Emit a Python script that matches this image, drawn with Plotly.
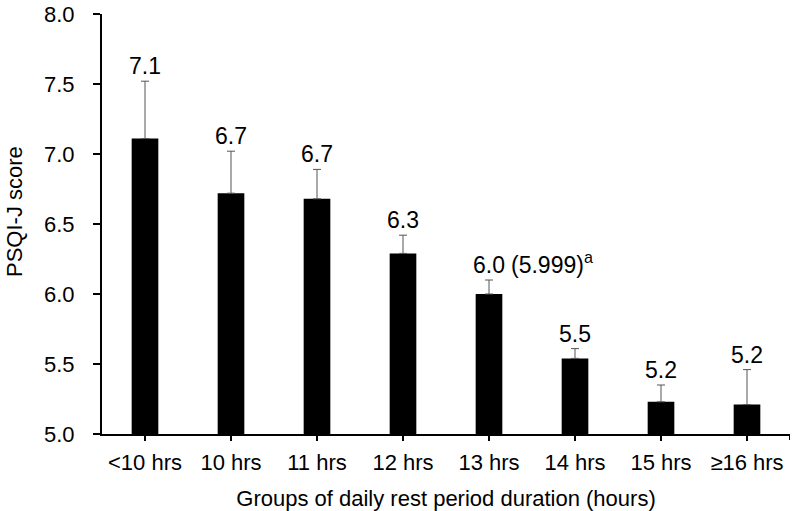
import plotly.graph_objects as go

categories = ["<10 hrs", "10 hrs", "11 hrs", "12 hrs", "13 hrs", "14 hrs", "15 hrs", "≥16 hrs"]
scores = [7.11, 6.72, 6.68, 6.29, 6.00, 5.54, 5.23, 5.21]
err_upper = [0.41, 0.30, 0.21, 0.13, 0.10, 0.07, 0.12, 0.25]
labels = ["7.1", "6.7", "6.7", "6.3", "6.0", "5.5", "5.2", "5.2"]
note_index = 4
note_text = "(5.999)<sup>a</sup>"
y_ticks = [5.0, 5.5, 6.0, 6.5, 7.0, 7.5, 8.0]
y_title = "PSQI-J score"
x_title = "Groups of daily rest period duration (hours)"

FONT = "Arial, 'Liberation Sans', sans-serif"

fig = go.Figure()
fig.add_trace(go.Bar(
    x=categories, y=scores, width=0.31,
    marker=dict(color="black", line=dict(width=0)),
    error_y=dict(type="data", symmetric=False, array=err_upper,
                 arrayminus=[0] * len(scores), color="#555555",
                 thickness=1, width=4),
    showlegend=False,
))

for i, (c, v, e, t) in enumerate(zip(categories, scores, err_upper, labels)):
    fig.add_annotation(x=c, y=v + e, text=t, showarrow=False, xref="x", yref="y",
                       yanchor="bottom", yshift=0,
                       font=dict(family=FONT, size=23, color="black"))

fig.add_annotation(x=categories[note_index], y=scores[note_index] + err_upper[note_index],
                   text=note_text, showarrow=False, xref="x", yref="y",
                   xanchor="left", yanchor="bottom", yshift=0, xshift=20,
                   font=dict(family=FONT, size=23, color="black"))

# y-axis title placed as rotated text left of the tick labels
fig.add_annotation(x=0, y=0.5, xref="paper", yref="paper", text=y_title,
                   textangle=-90, showarrow=False, xanchor="center", yanchor="middle",
                   xshift=-88, yshift=12, borderpad=0,
                   font=dict(family=FONT, size=22, color="black"))

# end tick at the right end of the x axis
fig.add_shape(type="line", xref="x", yref="paper", x0=7.5, x1=7.5,
              ysizemode="pixel", yanchor=0, y0=0, y1=-6,
              line=dict(color="black", width=2))

fig.update_layout(
    width=794, height=511,
    margin=dict(l=102, r=4, t=14, b=77, autoexpand=False),
    paper_bgcolor="white", plot_bgcolor="white",
    font=dict(family=FONT, size=22, color="black"),
)
fig.update_xaxes(
    type="category", range=[-0.5, 7.5], automargin=False,
    showline=True, linecolor="black", linewidth=2,
    ticks="outside", ticklen=5, tickwidth=2, tickcolor="black",
    tickfont=dict(family=FONT, size=22, color="black"),
    ticklabelstandoff=3,
    title=dict(text=x_title, font=dict(family=FONT, size=22, color="black"), standoff=17),
    showgrid=False, zeroline=False,
)
fig.update_yaxes(
    range=[5.0, 8.0], tickvals=y_ticks, ticktext=[f"{v:.1f}" for v in y_ticks],
    automargin=False,
    showline=True, linecolor="black", linewidth=2,
    ticks="outside", ticklen=7, tickwidth=2, tickcolor="black",
    tickfont=dict(family=FONT, size=22, color="black"),
    ticklabelstandoff=14,
    showgrid=False, zeroline=False,
)

fig.write_html("out.html", config={"displayModeBar": False},
               post_script="document.body.style.margin='0';")
